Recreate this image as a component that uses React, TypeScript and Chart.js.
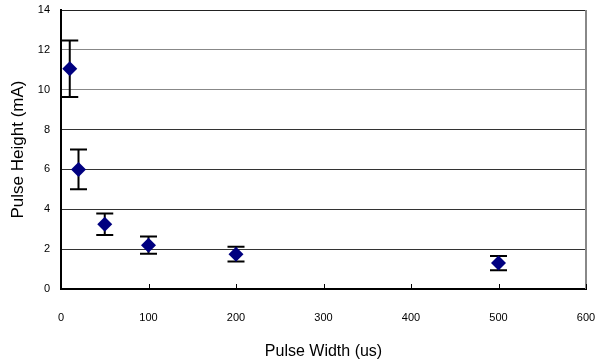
import React, { useEffect, useRef } from "react";
import { Chart, registerables } from "chart.js";

Chart.register(...registerables);

const pulseWidths = [10, 20, 50, 100, 200, 500];
const pulseHeights = [11.05, 6.0, 3.25, 2.2, 1.75, 1.3];
const errorAmounts = [1.42, 1.0, 0.54, 0.43, 0.37, 0.36];
const xTickValues = [0, 100, 200, 300, 400, 500, 600];
const yTickValues = [0, 2, 4, 6, 8, 10, 12, 14];

const FONT = "'Liberation Sans', Arial, sans-serif";

const errorBarPlugin = {
  id: "errorBars",
  afterDatasetsDraw(chart: any) {
    const { ctx, scales, chartArea } = chart;
    const xs = scales.x;
    ctx.save();
    // right border
    ctx.strokeStyle = "#888888";
    ctx.lineWidth = 2;
    ctx.beginPath();
    ctx.moveTo(chartArea.right, chartArea.top);
    ctx.lineTo(chartArea.right, chartArea.bottom);
    ctx.stroke();
    // inward x ticks
    ctx.strokeStyle = "#000";
    ctx.lineWidth = 1;
    xTickValues.forEach((v) => {
      const px = Math.round(xs.getPixelForValue(v)) + 0.5;
      ctx.beginPath();
      ctx.moveTo(px, chartArea.bottom);
      ctx.lineTo(px, chartArea.bottom - 5);
      ctx.stroke();
    });
    ctx.restore();
  },
  beforeDatasetsDraw(chart: any) {
    const { ctx, scales } = chart;
    const xs = scales.x;
    const ys = scales.y;
    ctx.save();
    ctx.strokeStyle = "#000";
    ctx.lineWidth = 2;
    const cap = 8.5;
    pulseWidths.forEach((w, i) => {
      const px = xs.getPixelForValue(w);
      const top = ys.getPixelForValue(pulseHeights[i] + errorAmounts[i]);
      const bot = ys.getPixelForValue(pulseHeights[i] - errorAmounts[i]);
      ctx.beginPath();
      ctx.moveTo(px, top);
      ctx.lineTo(px, bot);
      ctx.moveTo(px - cap, top);
      ctx.lineTo(px + cap, top);
      ctx.moveTo(px - cap, bot);
      ctx.lineTo(px + cap, bot);
      ctx.stroke();
    });
    ctx.restore();
  },
};

const zeroPadding = (s: any) => {
  s.paddingLeft = 0;
  s.paddingRight = 0;
  s.paddingTop = 0;
  s.paddingBottom = 0;
};

export default function App() {
  const ref = useRef<HTMLCanvasElement | null>(null);
  useEffect(() => {
    if (!ref.current) return;
    const chart = new Chart(ref.current, {
      type: "scatter",
      data: {
        datasets: [
          {
            label: "Pulse Height",
            data: pulseWidths.map((x, i) => ({ x, y: pulseHeights[i] })),
            pointStyle: "rectRot",
            pointRadius: 7.5,
            pointHoverRadius: 7.5,
            backgroundColor: "#000080",
            borderColor: "#000080",
            borderWidth: 0,
          },
        ],
      },
      options: {
        animation: false,
        responsive: false,
        layout: { padding: { top: 10, right: 11, left: 0, bottom: 0 } },
        plugins: { legend: { display: false }, tooltip: { enabled: false } },
        scales: {
          x: {
            type: "linear",
            min: 0,
            max: 600,
            afterBuildTicks: (s: any) => {
              s.ticks = xTickValues.map((v) => ({ value: v }));
            },
            afterFit: (s: any) => {
              s.height = 74;
              zeroPadding(s);
            },
            grid: { display: false, drawTicks: false },
            border: { display: true, color: "#000", width: 2 },
            ticks: {
              padding: 22,
              color: "#000",
              font: { family: FONT, size: 11 },
            },
            title: {
              display: true,
              text: "Pulse Width (us)",
              color: "#000",
              font: { family: FONT, size: 16 },
              padding: { top: 0, bottom: 2 },
            },
          },
          y: {
            type: "linear",
            min: 0,
            max: 14,
            afterBuildTicks: (s: any) => {
              s.ticks = yTickValues.map((v) => ({ value: v }));
            },
            afterFit: (s: any) => {
              s.width = 61;
              zeroPadding(s);
            },
            grid: {
              drawTicks: false,
              color: (c: any) => {
                const v = c.tick ? c.tick.value : 0;
                if (v === 14) return "#222";
                if (v >= 10) return "#888";
                return "#333";
              },
              lineWidth: 1,
            },
            border: { display: true, color: "#000", width: 2 },
            ticks: {
              padding: 11,
              color: "#000",
              font: { family: FONT, size: 11 },
            },
            title: {
              display: true,
              text: "Pulse Height (mA)",
              color: "#000",
              font: { family: FONT, size: 17 },
              padding: { top: 8, bottom: 0 },
            },
          },
        },
      },
      plugins: [errorBarPlugin],
    });
    return () => chart.destroy();
  }, []);
  return (
    <div style={{ position: "absolute", left: 0, top: 0, width: 597, height: 363, background: "#fff" }}>
      <canvas ref={ref} width={597} height={363} style={{ display: "block" }} />
    </div>
  );
}
